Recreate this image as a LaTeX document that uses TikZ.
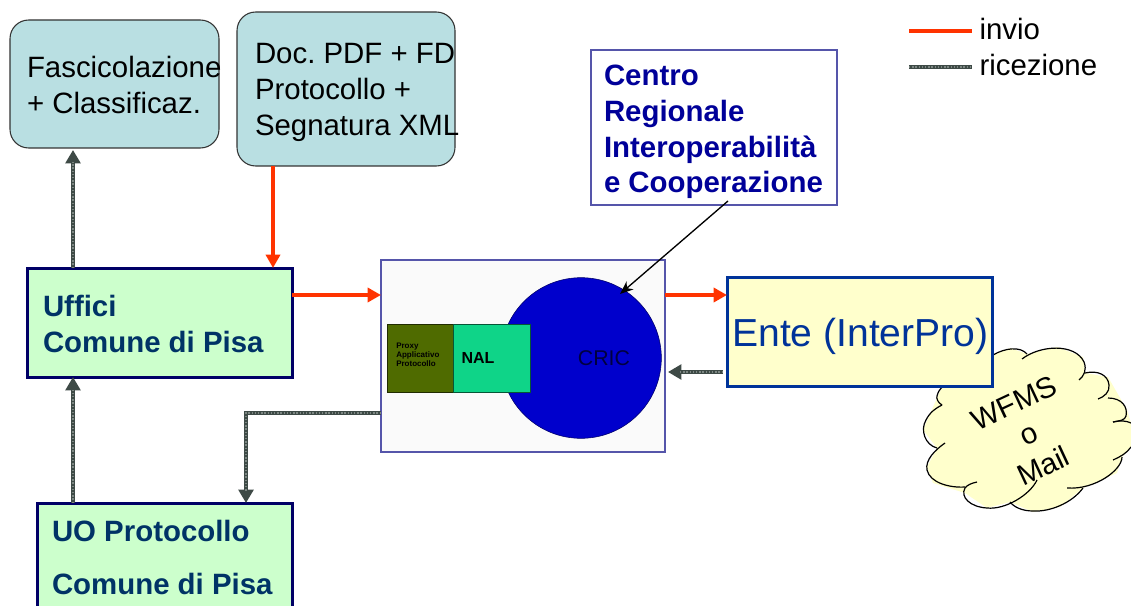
\documentclass[tikz,border=0pt]{standalone}
\usepackage{fontspec}
\setmainfont{Liberation Sans}
\usetikzlibrary{arrows.meta,calc}
\definecolor{teal1}{HTML}{B9DFE2}
\definecolor{green1}{HTML}{CCFFCC}
\definecolor{navy1}{HTML}{000066}
\definecolor{navytext}{HTML}{003366}
\definecolor{framec}{HTML}{5555AA}
\definecolor{centrotext}{HTML}{000099}
\definecolor{cream}{HTML}{FFFFCC}
\definecolor{entec}{HTML}{003399}
\definecolor{redline}{HTML}{FF3300}
\definecolor{greydark}{HTML}{3E4A46}
\definecolor{greylight}{HTML}{7C8682}
\definecolor{proxyc}{HTML}{4F6B00}
\definecolor{nalc}{HTML}{0FD488}
\definecolor{cricc}{HTML}{0000CC}
\definecolor{cricl}{HTML}{000040}
\tikzset{
  x=0.75pt,y=-0.75pt,
  wh/.style 2 args={minimum width=#1*0.75pt,minimum height=#2*0.75pt},
  boxbase/.style={anchor=north west,inner sep=0pt,outer sep=0pt},
  tealbox/.style={boxbase,draw=black!80,fill=teal1,line width=0.8pt,rounded corners=14pt},
  greenbox/.style={boxbase,draw=navy1,fill=green1,line width=2.25pt},
  framebox/.style={boxbase,draw=framec,line width=1.1pt},
  txt/.style={anchor=base west,inner sep=0pt,outer sep=0pt,font=\fontsize{22.05}{26}\selectfont\frenchspacing},
  txtbold/.style={txt,font=\fontsize{22.05}{26}\selectfont\bfseries},
  sendline/.style={draw=redline,line width=3pt,-{Triangle[width=10.5pt,length=10pt]}},
  recvline/.style={draw=greydark,line width=3.4pt,-{Triangle[width=11pt,length=10pt]},
    postaction={draw=greylight,line width=0.9pt,dash pattern=on 1pt off 1.4pt,-,shorten >=9pt}},
  lobe/.style={draw=black,line width=0.9pt},
}
\begin{document}
\begin{tikzpicture}
\useasboundingbox (0,0) rectangle (1131,606);
\clip (0,0) rectangle (1131,606);
% cloud
\fill[cream] (942,387) -- (993,355) -- (1010,348) -- (1027,354) -- (1057,347) -- (1083,357) -- (1085,373)
  -- (1108,377) -- (1127,410) -- (1131,423) -- (1131,447) -- (1122,457) -- (1117,473) -- (1083,488)
  -- (1060,507) -- (1033,512) -- (1010,502) -- (987,508) -- (965,493) -- (933,483) -- (927,467)
  -- (937,448) -- (923,430) -- (937,398) -- cycle;
\draw[lobe] (993,355) .. controls (1005,348) and (1020,346) .. (1027,354);
\draw[lobe] (1022,359) .. controls (1040,345) and (1075,343) .. (1084,362) .. controls (1087,370) and (1084,376) .. (1079,380);
\draw[lobe] (1085,373) .. controls (1098,370) and (1108,375) .. (1109,385) .. controls (1110,392) and (1104,397) .. (1098,399);
\draw[lobe] (1108,398) .. controls (1122,398) and (1128,407) .. (1126,416) .. controls (1125,420) and (1120,421) .. (1113,422);
\draw[lobe] (1113,422) .. controls (1120,420) and (1127,421) .. (1131,423);
\draw[lobe] (1131,447) .. controls (1127,453) and (1120,457) .. (1113,460);
\draw[lobe] (1122,457) .. controls (1122,470) and (1095,490) .. (1067,488);
\draw[lobe] (1083,488) .. controls (1072,503) and (1050,512) .. (1033,511) .. controls (1022,511) and (1014,507) .. (1010,502);
\draw[lobe] (1037,480) .. controls (1030,495) and (1005,510) .. (987,508) .. controls (970,507) and (960,497) .. (965,488) .. controls (967,485) and (972,483) .. (977,482);
\draw[lobe] (965,487) .. controls (950,488) and (930,483) .. (927,470) .. controls (925,460) and (935,450) .. (945,443);
\draw[lobe] (937,448) .. controls (925,445) and (920,430) .. (926,420) .. controls (930,412) and (936,408) .. (942,405);
\draw[lobe] (942,405) .. controls (938,403) and (936,398) .. (937,396) .. controls (938,392) and (940,389) .. (942,387);
% blue boxes
\node[tealbox,wh={209}{128}] (fasc) at (10,20) {};
\node[tealbox,wh={218}{154}] (doc) at (237,12) {};
\node[txt] (fasc1) at (27,78) {Fascicolazione};
\node[txt] (fasc2) at (27,114) {+ Classificaz.};
\node[txt] (doc1) at (255,64) {Doc. PDF + FD};
\node[txt] (doc2) at (255,100) {Protocollo +};
\node[txt] (doc3) at (255,136) {Segnatura XML};
% green boxes
\node[greenbox,wh={265}{109}] (uffici) at (27,268) {};
\node[greenbox,wh={255}{130}] (uo) at (37,503) {};
\node[txtbold,text=navytext] (uff1) at (43,316) {Uffici};
\node[txtbold,text=navytext] (uff2) at (43,352) {Comune di Pisa};
\node[txtbold,text=navytext] (uo1) at (52,541) {UO Protocollo};
\node[txtbold,text=navytext] (uo2) at (52,594) {Comune di Pisa};
% CRIC frame
\node[framebox,fill=black!2,wh={284}{192}] (frame) at (381,260) {};
\node[circle,fill=cricc,draw=navy1,line width=0.4pt,inner sep=0pt,outer sep=0pt,minimum size=120.5pt] (cric) at (581,358) {};
\node[boxbase,fill=proxyc,draw=black!60!proxyc,line width=0.6pt,wh={66}{68}] (proxy) at (387,324) {};
\node[boxbase,fill=nalc,draw=black!60!nalc,line width=0.6pt,wh={77}{68}] (nal) at (453,324) {};
\node[anchor=center,inner sep=0pt,font=\fontsize{12}{14}\selectfont\bfseries] (nallab) at (478,358) {NAL};
\node[anchor=center,inner sep=0pt,text=cricl,font=\fontsize{16}{18}\selectfont] (criclab) at (604,358) {CRIC};
\node[anchor=west,inner sep=0pt,align=left,text=black,font=\fontsize{6}{6.8}\selectfont\bfseries] (proxylab) at (396,355) {Proxy\\Applicativo\\Protocollo};
% Centro
\node[framebox,fill=white,wh={246}{155}] (centro) at (591,50) {};
\node[txtbold,text=centrotext] (c1) at (604,86) {Centro};
\node[txtbold,text=centrotext] (c2) at (604,122) {Regionale};
\node[txtbold,text=centrotext] (c3) at (604,157) {Interoperabilità};
\node[txtbold,text=centrotext] (c4) at (604,192) {e Cooperazione};
% Ente
\node[boxbase,draw=entec,fill=cream,line width=2.25pt,wh={265}{109}] (ente) at (727,277) {};
\node[anchor=base west,inner sep=0pt,text=entec,font=\fontsize{29.3}{32}\selectfont] (entelab) at (732,346) {Ente (InterPro)};
% cloud text
\node[rotate=25,inner sep=0pt,font=\fontsize{22.05}{26}\selectfont] (w1) at (1014,403) {WFMS};
\node[rotate=25,inner sep=0pt,font=\fontsize{22.05}{26}\selectfont] (w2) at (1030,436) {o};
\node[rotate=25,inner sep=0pt,font=\fontsize{22.05}{26}\selectfont] (w3) at (1043,466) {Mail};
% connectors
\draw[sendline] ($(doc.south west)+(36,0)$) -- ($(uffici.north west)+(246,0)$);
\draw[sendline] ($(uffici.north east)+(0,27)$) -- ($(frame.north west)+(0,35)$);
\draw[sendline] ($(frame.north east)+(0,35)$) -- ($(ente.north west)+(0,18)$);
\draw[recvline] ($(uffici.north west)+(46,0)$) -- ($(fasc.south west)+(63,2)$);
\draw[recvline] ($(uo.north west)+(36,0)$) -- ($(uffici.south west)+(46,0)$);
\draw[recvline] ($(ente.south west)+(-4,-14)$) -- ($(frame.south east)+(3,-80)$);
\draw[recvline] ($(frame.south west)+(0,-39)$) -| ($(uo.north west)+(209,0)$);
\draw[-{Stealth[length=10pt,width=8pt]},line width=1pt,black] ($(centro.south east)+(-109,-4)$) -- ($(cric.center)+(39,-64)$);
% legend
\coordinate (l1a) at (909,31); \coordinate (l1b) at (972,31);
\coordinate (l2a) at (909,67); \coordinate (l2b) at (972,67);
\draw[sendline,-] (l1a) -- (l1b);
\draw[draw=greydark,line width=3.4pt,postaction={draw=greylight,line width=0.9pt,dash pattern=on 1pt off 1.4pt}] (l2a) -- (l2b);
\node[txt] (inv) at (979.5,40) {invio};
\node[txt] (ric) at (979.5,76) {ricezione};
\end{tikzpicture}
\end{document}
